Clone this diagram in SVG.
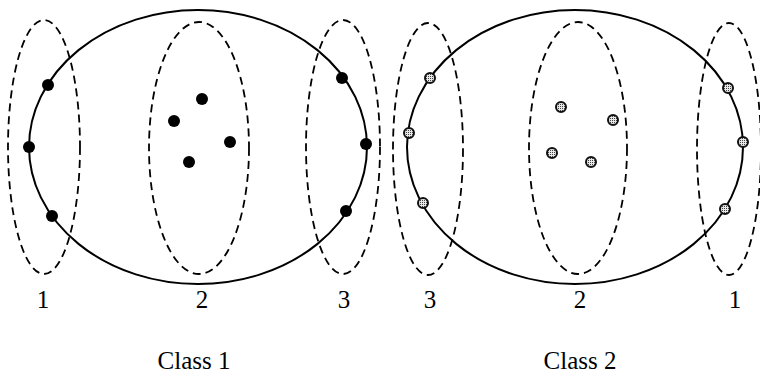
<svg xmlns="http://www.w3.org/2000/svg" width="760" height="373" viewBox="0 0 760 373">
<defs>
<pattern id="dotpat" width="2" height="2" patternUnits="userSpaceOnUse">
<rect width="2" height="2" fill="#e8e8e8"/>
<rect width="1" height="1" fill="#444444"/>
</pattern>
<style>
.big{fill:none;stroke:#000;stroke-width:2}
.dash{fill:none;stroke:#000;stroke-width:1.8;stroke-dasharray:8 5}
.d1{fill:#000}
.d2{fill:url(#dotpat);stroke:#111;stroke-width:2}
text{font-family:"Liberation Serif","Times New Roman",serif;font-size:25px;fill:#000;text-anchor:middle}
</style>
</defs>
<rect width="760" height="373" fill="#fff"/>
<g id="class1">
<ellipse class="big" cx="198" cy="147" rx="169" ry="137"/>
<ellipse class="dash" cx="44" cy="147" rx="36" ry="127"/>
<ellipse class="dash" cx="199" cy="148" rx="50" ry="126"/>
<ellipse class="dash" cx="343" cy="147" rx="37" ry="127"/>
<circle class="d1" cx="48" cy="85" r="6"/>
<circle class="d1" cx="29" cy="147" r="6"/>
<circle class="d1" cx="52" cy="216" r="6"/>
<circle class="d1" cx="202" cy="99" r="6"/>
<circle class="d1" cx="174" cy="121" r="6"/>
<circle class="d1" cx="230" cy="142" r="6"/>
<circle class="d1" cx="189" cy="162" r="6"/>
<circle class="d1" cx="342" cy="78" r="6"/>
<circle class="d1" cx="366" cy="144" r="6"/>
<circle class="d1" cx="346" cy="211" r="6"/>
<text x="43" y="308">1</text>
<text x="202" y="308">2</text>
<text x="344" y="308">3</text>
<text x="194" y="369">Class 1</text>
</g>
<g id="class2">
<ellipse class="big" cx="575" cy="147" rx="168" ry="137"/>
<ellipse class="dash" cx="428" cy="149" rx="35" ry="126"/>
<ellipse class="dash" cx="578" cy="148" rx="49" ry="126"/>
<ellipse class="dash" cx="729" cy="149" rx="32" ry="126"/>
<circle class="d2" cx="430" cy="78" r="5"/>
<circle class="d2" cx="409" cy="133" r="5"/>
<circle class="d2" cx="423" cy="203" r="5"/>
<circle class="d2" cx="561" cy="107" r="5"/>
<circle class="d2" cx="613" cy="120" r="5"/>
<circle class="d2" cx="552" cy="153" r="5"/>
<circle class="d2" cx="591" cy="162" r="5"/>
<circle class="d2" cx="728" cy="88" r="5"/>
<circle class="d2" cx="743" cy="142" r="5"/>
<circle class="d2" cx="725" cy="209" r="5"/>
<text x="430" y="308">3</text>
<text x="580" y="308">2</text>
<text x="735" y="308">1</text>
<text x="580" y="369">Class 2</text>
</g>
</svg>
